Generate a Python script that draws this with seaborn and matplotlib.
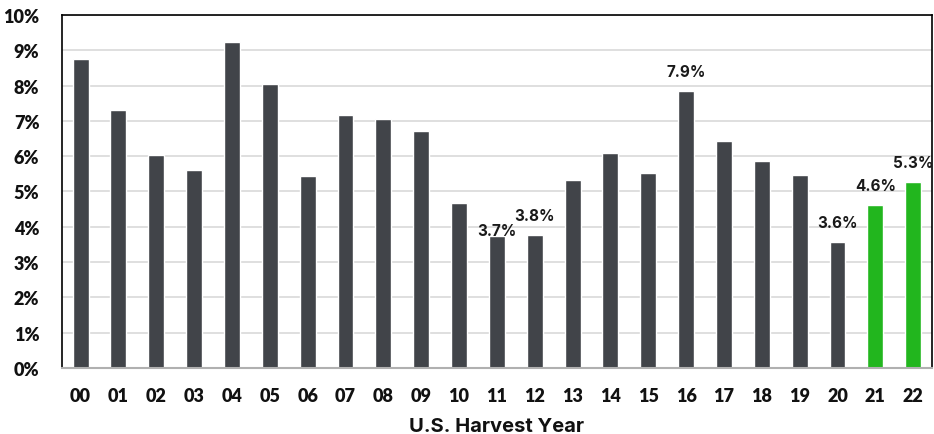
import matplotlib
matplotlib.use("Agg")
import matplotlib.pyplot as plt
import seaborn as sns
import numpy as np

years = ["00", "01", "02", "03", "04", "05", "06", "07", "08", "09", "10",
         "11", "12", "13", "14", "15", "16", "17", "18", "19", "20", "21", "22"]
values = [8.75, 7.31, 6.03, 5.61, 9.24, 8.05, 5.44, 7.17, 7.05, 6.71, 4.67,
          3.73, 3.76, 5.33, 6.08, 5.52, 7.84, 6.42, 5.86, 5.48, 3.56, 4.62, 5.27]
labels = {"11": "3.7%", "12": "3.8%", "16": "7.9%", "20": "3.6%", "21": "4.6%", "22": "5.3%"}
highlight = ["21", "22"]

dark = "#414449"
green = "#22B61E"
palette = {y: (green if y in highlight else dark) for y in years}

sns.set_theme(style="white")
plt.rcParams["font.family"] = ["Inter", "DejaVu Sans"]

fig, ax = plt.subplots(figsize=(9.34, 4.35), dpi=100)
sns.barplot(x=years, y=values, hue=years, palette=palette, legend=False,
            width=0.42, ax=ax, saturation=1)

ax.set_ylim(0, 10)
ax.set_xlim(-0.5, len(years) - 0.5)
ax.set_yticks(range(0, 11))
ax.set_yticklabels([f"{i}%" for i in range(0, 11)])
ax.yaxis.grid(True, color="#d9d9d9", linewidth=1.2)
ax.set_axisbelow(True)

for s in ["left", "top", "right"]:
    ax.spines[s].set_visible(True)
    ax.spines[s].set_color("black")
    ax.spines[s].set_linewidth(1.2)
ax.spines["bottom"].set_color("#b0b0b0")
ax.spines["bottom"].set_linewidth(1.5)

ax.tick_params(axis="both", length=0)
ax.tick_params(axis="x", pad=14)
ax.tick_params(axis="y", pad=16)
for t in ax.get_xticklabels() + ax.get_yticklabels():
    t.set_fontfamily(["Lato", "DejaVu Sans"])
    t.set_fontweight("heavy")
    t.set_fontsize(13)
    t.set_color("#111111")

ax.set_xlabel("U.S. Harvest Year", fontsize=14.5, fontweight="bold",
              color="#111111", labelpad=9)
ax.set_ylabel("")

for i, y in enumerate(years):
    if y in labels:
        off = 4 if y == "11" else 14
        ax.annotate(labels[y], (i, values[i]), xytext=(0, off),
                    textcoords="offset points", ha="center", va="center",
                    fontsize=11, fontweight="bold", color="#1a1a1a")

plt.subplots_adjust(left=0.066, right=0.998, top=0.963, bottom=0.152)
plt.savefig("out.png", dpi=100)
